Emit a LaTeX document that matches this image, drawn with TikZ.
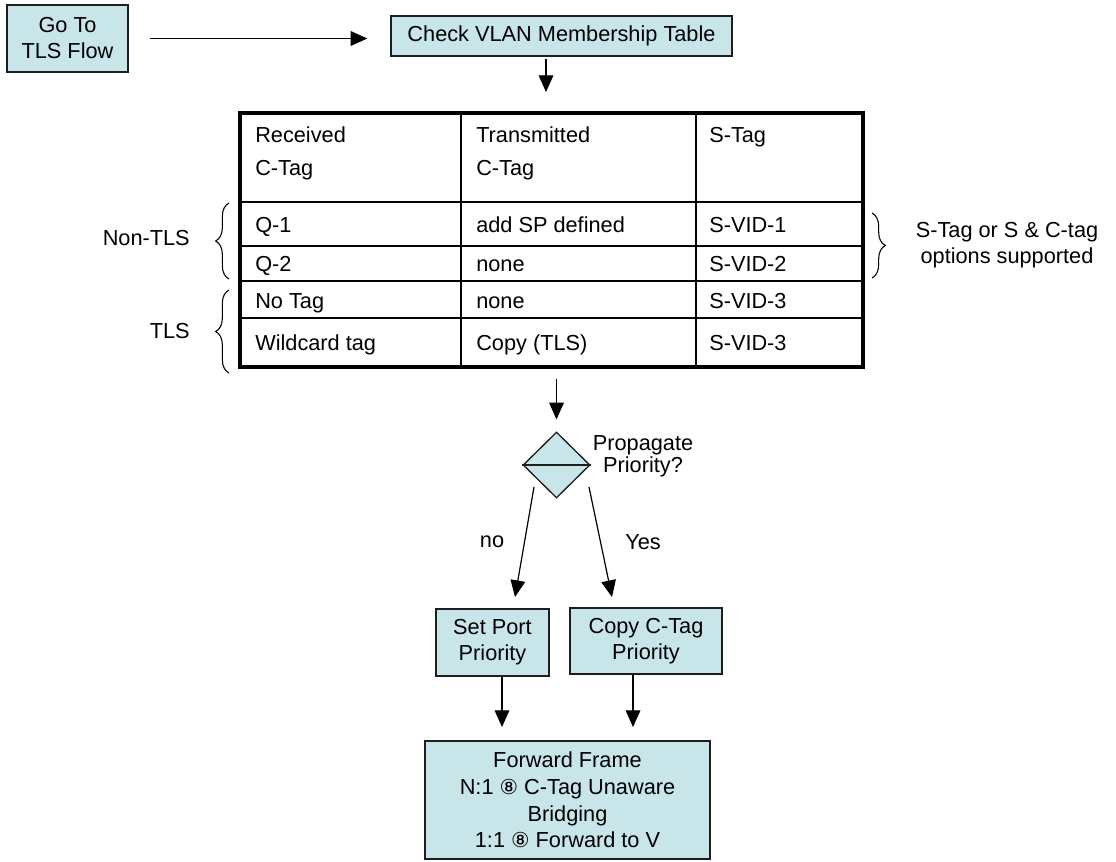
\documentclass[tikz,border=0pt]{standalone}
\usepackage{fontspec}
\setmainfont{Liberation Sans}
\newfontfamily\symfont{DejaVu Sans}
\usetikzlibrary{arrows.meta,shapes.geometric,decorations.pathreplacing}
\definecolor{boxc}{RGB}{200,230,234}
\definecolor{edge}{RGB}{30,30,30}
\begin{document}
\begin{tikzpicture}[x=0.75pt,y=-0.75pt,
  every node/.style={font=\fontsize{16.3pt}{19.5pt}\selectfont},
  box/.style={draw=edge,fill=boxc,line width=1pt,align=center,inner sep=0pt},
  arr/.style={-{Triangle[length=12.5pt,width=11pt]},line width=0.9pt},
  cell/.style={anchor=base west,inner sep=0pt},
  grid/.style={line width=1.2pt},
  brc/.style={decorate,decoration={brace,amplitude=10pt},line width=0.8pt},
  lbl/.style={inner sep=0pt,align=center}]
\useasboundingbox (0,0) rectangle (1116,861);

% top boxes
\node[box,minimum width=90.75pt,minimum height=50.25pt] (go) at (67.5,38.5) {Go To\\TLS Flow};
\node[box,minimum width=255.75pt,minimum height=30pt] (check) at (561.5,36) {Check VLAN Membership Table};
\draw[arr,shorten <=15.75pt,shorten >=17.25pt] (go.east) -- (go.east -| check.west);

% table
\coordinate (t1) at (546,92);
\draw[arr,shorten <=2pt] (check.south -| t1) -- (t1);
\draw[grid] (461,113) -- (461,367);
\draw[grid] (696,113) -- (696,367);
\foreach \yy in {202,246,281,318} \draw[grid] (240,\yy) -- (863,\yy);
\node[draw,line width=3pt,minimum width=467.25pt,minimum height=190.5pt,inner sep=0pt] (tab) at (551.5,240) {};

\node[cell] (h1a) at (255,142) {Received};
\node[cell] (h1b) at (255,175) {C-Tag};
\node[cell] (h2a) at (476,142) {Transmitted};
\node[cell] (h2b) at (476,175) {C-Tag};
\node[cell] (h3a) at (709,142) {S-Tag};

\node[cell] (r1a) at (255,232) {Q-1};
\node[cell] (r1b) at (476,232) {add SP defined};
\node[cell] (r1c) at (709,232) {S-VID-1};
\node[cell] (r2a) at (255,271) {Q-2};
\node[cell] (r2b) at (476,271) {none};
\node[cell] (r2c) at (709,271) {S-VID-2};
\node[cell] (r3a) at (255,308) {No Tag};
\node[cell] (r3b) at (476,308) {none};
\node[cell] (r3c) at (709,308) {S-VID-3};
\node[cell] (r4a) at (255,350) {Wildcard tag};
\node[cell] (r4b) at (476,350) {Copy (TLS)};
\node[cell] (r4c) at (709,350) {S-VID-3};

% braces
\draw[brc] (229,279) -- (229,203);
\draw[brc] (229,373) -- (229,290);
\draw[brc] (872,213) -- (872,278);
\node[lbl,anchor=east] (nontls) at (190,238) {Non-TLS};
\node[lbl,anchor=east] (tls) at (190,331) {TLS};
\node[lbl] (opt) at (1007,245) {S-Tag or S \& C-tag\\options supported};

% decision
\node[diamond,draw=edge,fill=boxc,line width=1pt,minimum width=50.25pt,minimum height=49.5pt,inner sep=0pt] (d) at (556.5,465) {};
\draw[line width=1pt,edge] (d.west) -- (d.east);
\draw[arr,shorten <=7.5pt,shorten >=9pt] (tab.south -| d.north) -- (d.north);
\node[lbl,font=\fontsize{16.3pt}{16.5pt}\selectfont] (prop) at (643,456) {Propagate\\Priority?};

% branches
\node[box,minimum width=84.75pt,minimum height=50.25pt] (setp) at (492.5,642.5) {Set Port\\Priority};
\node[box,minimum width=114pt,minimum height=49.5pt] (copy) at (646,641) {Copy C-Tag\\Priority};
\coordinate (ns) at (534,487);
\coordinate (ne) at (515,597);
\coordinate (ys) at (589,487);
\coordinate (ye) at (612,597);
\draw[arr] (ns) -- (ne);
\draw[arr] (ys) -- (ye);
\node[lbl] (no) at (492,542) {no};
\node[lbl] (yes) at (643,542) {Yes};

% forward
\node[box,minimum width=213.75pt,minimum height=88.5pt,font=\fontsize{16.3pt}{20pt}\selectfont] (fwd) at (567.5,800) {Forward Frame\\N:1 {\symfont\fontsize{15.5pt}{15.5pt}\selectfont ⑧} C-Tag Unaware\\Bridging\\1:1 {\symfont\fontsize{15.5pt}{15.5pt}\selectfont ⑧} Forward to V};
\coordinate (a1) at (502,727);
\coordinate (a2) at (633,727);
\draw[arr] (setp.south -| a1) -- (a1);
\draw[arr] (copy.south -| a2) -- (a2);
\end{tikzpicture}
\end{document}
